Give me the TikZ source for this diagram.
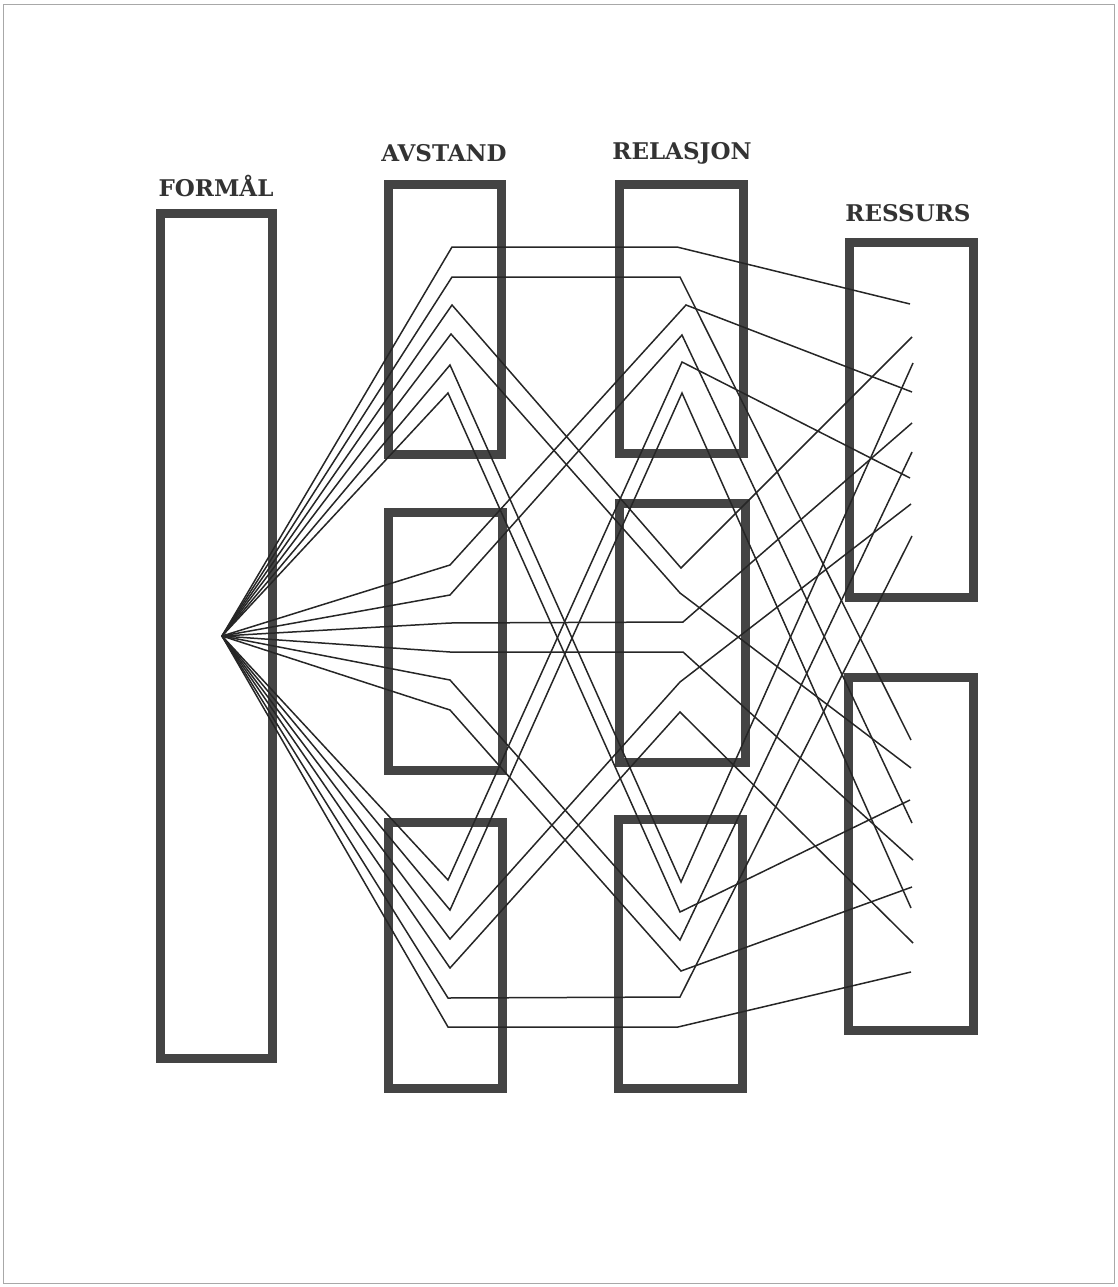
\documentclass[tikz,border=0pt]{standalone}
\usepackage{fontspec}
\setmainfont{DejaVu Serif}
\definecolor{boxc}{HTML}{444444}
\definecolor{linec}{HTML}{262626}
\definecolor{textc}{HTML}{333333}
\definecolor{framec}{HTML}{A8A8A8}
\begin{document}
\begin{tikzpicture}[x=1pt,y=-1pt,
  box/.style={draw=boxc, line width=9pt, inner sep=0pt, outer sep=0pt, rectangle},
  link/.style={draw=linec, line width=1.5pt},
  lbl/.style={text=textc, font=\fontsize{23}{23}\selectfont\bfseries, inner sep=0pt}]
\useasboundingbox (0,0) rectangle (1118,1287);
\draw[framec, line width=1pt] (3,5) rectangle (1114,1283);
% boxes
\node[box, minimum width=112pt, minimum height=845pt] (formal) at (216,635.5) {};
\node[box, minimum width=113pt, minimum height=270pt] (avs1) at (444.5,319) {};
\node[box, minimum width=114pt, minimum height=258pt] (avs2) at (445,641) {};
\node[box, minimum width=114pt, minimum height=266pt] (avs3) at (445,955) {};
\node[box, minimum width=124pt, minimum height=269pt] (rel1) at (681,318.5) {};
\node[box, minimum width=126pt, minimum height=259pt] (rel2) at (682,632.5) {};
\node[box, minimum width=124pt, minimum height=269pt] (rel3) at (680,953.5) {};
\node[box, minimum width=124pt, minimum height=355pt] (res1) at (911,419.5) {};
\node[box, minimum width=125pt, minimum height=353pt] (res2) at (910.5,853.5) {};
% labels
\node[lbl] (lformal) at (216,186) {FORMÅL};
\node[lbl] (lavs) at (444,153) {AVSTAND};
\node[lbl] (lrel) at (682,153) {RELASJON};
\node[lbl] (lres) at (908,213) {RESSURS};
% fan point
\coordinate (F) at (222,636);
% avstand points
\coordinate (a1) at (452,247); \coordinate (a2) at (452,277);
\coordinate (a3) at (452,305); \coordinate (a4) at (451,334);
\coordinate (a5) at (450,365); \coordinate (a6) at (448,393);
\coordinate (b1) at (450,565); \coordinate (b2) at (450,595);
\coordinate (b3) at (450,623); \coordinate (b4) at (450,652);
\coordinate (b5) at (450,680); \coordinate (b6) at (450,710);
\coordinate (c1) at (448,880); \coordinate (c2) at (450,910);
\coordinate (c3) at (450,939); \coordinate (c4) at (450,968);
\coordinate (c5) at (448,998); \coordinate (c6) at (448,1027);
% relasjon points
\coordinate (r1) at (677,247); \coordinate (r2) at (680,277);
\coordinate (r3) at (686,305); \coordinate (r4) at (682,335);
\coordinate (r5) at (682,362); \coordinate (r6) at (682,393);
\coordinate (s1) at (681,568); \coordinate (s2) at (680,593);
\coordinate (s3) at (683,622); \coordinate (s4) at (683,652);
\coordinate (s5) at (680,682); \coordinate (s6) at (680,712);
\coordinate (t1) at (681,882); \coordinate (t2) at (680,912);
\coordinate (t3) at (680,940); \coordinate (t4) at (681,971);
\coordinate (t5) at (680,997); \coordinate (t6) at (678,1027);
% ressurs end points
\coordinate (u1) at (910,304); \coordinate (u2) at (912,337);
\coordinate (u3) at (913,363); \coordinate (u4) at (912,392);
\coordinate (u5) at (912,423); \coordinate (u6) at (912,452);
\coordinate (u7) at (910,478); \coordinate (u8) at (911,504);
\coordinate (u9) at (912,536);
\coordinate (v1) at (911,740); \coordinate (v2) at (911,768);
\coordinate (v3) at (910,800); \coordinate (v4) at (912,823);
\coordinate (v5) at (913,860); \coordinate (v6) at (912,887);
\coordinate (v7) at (911,908); \coordinate (v8) at (913,943);
\coordinate (v9) at (911,972);
% connectors
\foreach \p/\q/\e in {a1/r1/u1, a2/r2/v1, a3/s1/u2, a4/s2/v2, a5/t1/u3, a6/t2/v3,
                       b1/r3/u4, b2/r4/v4, b3/s3/u5, b4/s4/v5, b5/t3/u6, b6/t4/v6,
                       c1/r5/u7, c2/r6/v7, c3/s5/u8, c4/s6/v8, c5/t5/u9, c6/t6/v9}
  \draw[link] (F) -- (\p) -- (\q) -- (\e);
\end{tikzpicture}
\end{document}
